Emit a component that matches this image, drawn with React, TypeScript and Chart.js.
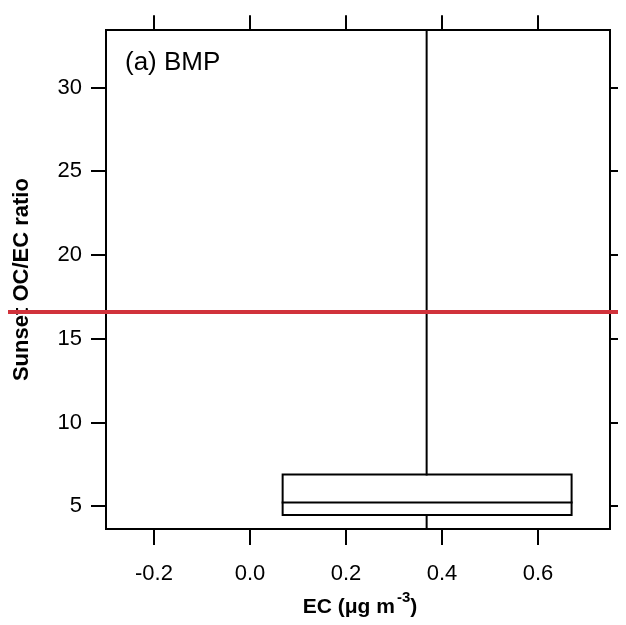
import React, { useEffect, useRef } from "react";
import { Chart, registerables } from "chart.js";

Chart.register(...registerables);

// ---- data ----
const xTicks = [-0.2, 0.0, 0.2, 0.4, 0.6];
const yTicks = [5, 10, 15, 20, 25, 30];
const xRange = [-0.3, 0.75];
const yRange = [3.64, 33.43];
const boxEC = [0.068, 0.67]; // box left / right (EC)
const boxRatio = [4.47, 5.22, 6.89]; // q1, median, q3 (OC/EC ratio)
const whiskerEC = [0.368];
const whiskerRatio = [2.0, 40.0]; // low / high end of vertical line
const refRatio = [16.6];
const panelLabel = "(a) BMP";
const xTitleParts = ["EC (\u03bcg m", "-3", ")"];
const yTitle = "Sunset OC/EC ratio";

const FONT = "'Liberation Sans', Arial, Helvetica, sans-serif";
const RED = "#d1323b";

const W = 618;
const H = 609;

const seg = (pts: { x: number; y: number }[]) => ({
  data: pts,
  showLine: true,
  borderColor: "#000",
  borderWidth: 2,
  pointRadius: 0,
  pointHoverRadius: 0,
  fill: false,
  tension: 0,
  borderJoinStyle: "miter" as const,
  borderCapStyle: "square" as const,
});

const setTicks = (arr: number[]) => (s: any) => {
  s.ticks = arr.map((v) => ({ value: v }));
};

const overlay = {
  id: "overlay",
  afterDraw(chart: any) {
    const { ctx, chartArea, scales } = chart;
    ctx.save();
    // reference line across full width
    const yr = scales.y.getPixelForValue(refRatio[0]);
    ctx.strokeStyle = RED;
    ctx.lineWidth = 4;
    ctx.beginPath();
    ctx.moveTo(0, yr);
    ctx.lineTo(chart.width, yr);
    ctx.stroke();

    // panel label
    ctx.fillStyle = "#000";
    ctx.font = `26px ${FONT}`;
    ctx.textAlign = "left";
    ctx.textBaseline = "alphabetic";
    ctx.fillText(panelLabel, chartArea.left + 19, chartArea.top + 40);

    // x title with superscript
    const mainFont = `bold 21px ${FONT}`;
    const supFont = `bold 15px ${FONT}`;
    ctx.font = mainFont;
    const w1 = ctx.measureText(xTitleParts[0]).width;
    const w3 = ctx.measureText(xTitleParts[2]).width;
    ctx.font = supFont;
    const w2 = ctx.measureText(xTitleParts[1]).width;
    const gap = 2;
    const total = w1 + gap + w2 + w3;
    const cx = (chartArea.left + chartArea.right) / 2 + 2;
    let x0 = cx - total / 2;
    const base = chart.height - 4;
    ctx.font = mainFont;
    ctx.fillText(xTitleParts[0], x0, base);
    x0 += w1 + gap;
    ctx.font = supFont;
    ctx.fillText(xTitleParts[1], x0, base - 11);
    x0 += w2;
    ctx.font = mainFont;
    ctx.fillText(xTitleParts[2], x0, base);
    ctx.restore();
  },
};

export default function App() {
  const ref = useRef<HTMLCanvasElement | null>(null);

  useEffect(() => {
    if (!ref.current) return;
    const tickFont = { family: FONT, size: 22, lineHeight: 1.2 };
    const grid = (len: number) => ({
      drawOnChartArea: false,
      drawTicks: true,
      tickLength: len,
      color: "#000",
      lineWidth: 2,
    });
    const border = { display: true, color: "#000", width: 2 };

    const chart = new Chart(ref.current, {
      type: "scatter",
      data: {
        datasets: [
          seg([
            { x: boxEC[0], y: boxRatio[0] },
            { x: boxEC[1], y: boxRatio[0] },
            { x: boxEC[1], y: boxRatio[2] },
            { x: boxEC[0], y: boxRatio[2] },
            { x: boxEC[0], y: boxRatio[0] },
          ]),
          seg([
            { x: boxEC[0], y: boxRatio[1] },
            { x: boxEC[1], y: boxRatio[1] },
          ]),
          seg([
            { x: whiskerEC[0], y: whiskerRatio[0] },
            { x: whiskerEC[0], y: boxRatio[0] },
          ]),
          seg([
            { x: whiskerEC[0], y: boxRatio[2] },
            { x: whiskerEC[0], y: whiskerRatio[1] },
          ]),
        ],
      },
      options: {
        responsive: false,
        maintainAspectRatio: false,
        animation: false,
        devicePixelRatio: 1,
        layout: { padding: 0 },
        plugins: {
          legend: { display: false },
          tooltip: { enabled: false },
          title: { display: false },
        },
        scales: {
          x: {
            type: "linear",
            position: "bottom",
            min: xRange[0],
            max: xRange[1],
            afterBuildTicks: setTicks(xTicks),
            afterFit: (s: any) => {
              s.height = 88;
            },
            ticks: {
              font: tickFont,
              color: "#000",
              padding: 16,
              maxRotation: 0,
              autoSkip: false,
              callback: (v: any) => Number(v).toFixed(1),
            },
            grid: grid(16),
            border,
          },
          xTop: {
            type: "linear",
            position: "top",
            min: xRange[0],
            max: xRange[1],
            afterBuildTicks: setTicks(xTicks),
            afterFit: (s: any) => {
              s.height = 17;
            },
            ticks: { display: false },
            grid: grid(15),
            border,
          },
          y: {
            type: "linear",
            position: "left",
            min: yRange[0],
            max: yRange[1],
            afterBuildTicks: setTicks(yTicks),
            afterFit: (s: any) => {
              s.width = 98;
            },
            ticks: {
              font: tickFont,
              color: "#000",
              padding: 9,
              autoSkip: false,
              callback: (v: any) => String(v),
            },
            grid: grid(15),
            border,
            title: {
              display: true,
              text: yTitle,
              color: "#000",
              font: { family: FONT, size: 22, weight: "bold", lineHeight: 1 },
              padding: { top: 2.5, bottom: 0 },
            },
          },
          yRight: {
            type: "linear",
            position: "right",
            min: yRange[0],
            max: yRange[1],
            afterBuildTicks: setTicks(yTicks),
            afterFit: (s: any) => {
              s.width = 16;
            },
            ticks: { display: false },
            grid: grid(16),
            border,
          },
        },
      },
      plugins: [overlay],
    });
    return () => chart.destroy();
  }, []);

  return (
    <div style={{ width: W, height: H }}>
      <canvas ref={ref} width={W} height={H} style={{ display: "block" }} />
    </div>
  );
}
